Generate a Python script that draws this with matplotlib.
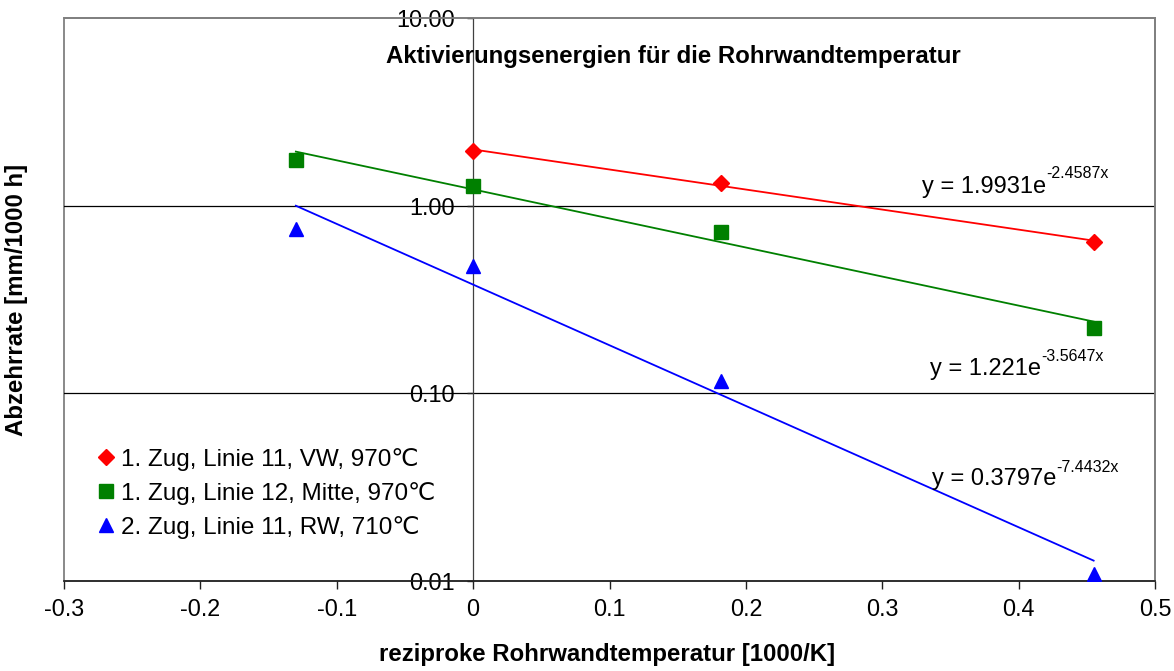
import matplotlib
matplotlib.use('Agg')
import matplotlib.pyplot as plt
import numpy as np
from matplotlib.ticker import FixedLocator, FormatStrFormatter, NullLocator
from matplotlib.patches import Rectangle

plt.rcParams['font.family'] = ['Liberation Sans', 'DejaVu Sans']

# reziproke Rohrwandtemperatur [1000/K] und Abzehrrate [mm/1000 h]
x_vw = [0.0, 0.182, 0.455]
y_vw = [1.95, 1.32, 0.64]
x_mitte = [-0.13, 0.0, 0.182, 0.455]
y_mitte = [1.75, 1.27, 0.72, 0.223]
x_rw = [-0.13, 0.0, 0.182, 0.455]
y_rw = [0.75, 0.476, 0.116, 0.0109]

labels = ['1. Zug, Linie 11, VW, 970\u2103',
          '1. Zug, Linie 12, Mitte, 970\u2103',
          '2. Zug, Linie 11, RW, 710\u2103']
colors = ['#ff0000', '#008000', '#0000ff']
markers = ['D', 's', '^']
msizes = [8, 10, 10]

# exponentielle Trendlinien y = a*exp(b*x)
fit_a = [1.9931, 1.221, 0.3797]
fit_b = [-2.4587, -3.5647, -7.4432]
fit_text = ['1.9931', '1.221', '0.3797']
fit_exp = ['-2.4587', '-3.5647', '-7.4432']
# Lage der Gleichungen in Pixeln: links, Grundlinie, Grundlinie Exponent
eq_pos = [(922, 193, 178), (930, 375, 361), (932, 485, 472)]

W, H = 1174, 671
FS = 16.8

fig = plt.figure(figsize=(W / 100, H / 100), dpi=100)
fig.subplots_adjust(left=64 / W, right=1155 / W, top=1 - 18 / H, bottom=1 - 581 / H)
ax = fig.add_subplot(111)

series = [(x_vw, y_vw), (x_mitte, y_mitte), (x_rw, y_rw)]
for i, (xs, ys) in enumerate(series):
    ax.plot(xs, ys, linestyle='none', marker=markers[i], ms=msizes[i],
            color=colors[i], mec=colors[i], label=labels[i], zorder=4)
    xx = np.linspace(min(xs), max(xs), 50)
    ax.plot(xx, fit_a[i] * np.exp(fit_b[i] * xx), color=colors[i], lw=1.3, zorder=3)
    px, pb, pe = eq_pos[i]
    t = fig.text(px / W, 1 - pb / H, 'y = %se' % fit_text[i],
                 ha='left', va='baseline', fontsize=17)
    ax.annotate(fit_exp[i] + 'x', xy=(1, 1 - pe / H),
                xycoords=(t, 'figure fraction'), ha='left', va='baseline',
                fontsize=11.5, annotation_clip=False)

ax.set_yscale('log')
ax.set_xlim(-0.3, 0.5)
ax.set_ylim(0.01, 10)

ax.yaxis.set_major_locator(FixedLocator([0.01, 0.1, 1, 10]))
ax.yaxis.set_minor_locator(NullLocator())
ax.yaxis.set_major_formatter(FormatStrFormatter('%.2f'))
ax.xaxis.set_major_locator(FixedLocator([-0.3, -0.2, -0.1, 0, 0.1, 0.2, 0.3, 0.4, 0.5]))
ax.xaxis.set_major_formatter(FormatStrFormatter('%g'))

for yv in [0.1, 1]:
    ax.axhline(yv, color='#000000', lw=0.9, zorder=1)

# y-Achse liegt bei x = 0
ax.spines['left'].set_position(('data', 0))
ax.spines['left'].set_color('#404040')
ax.spines['left'].set_linewidth(0.9)
ax.spines['bottom'].set_color('#202020')
ax.spines['bottom'].set_linewidth(1.2)
for s in ['top', 'right']:
    ax.spines[s].set_color('#808080')
    ax.spines[s].set_linewidth(1.3)
ax.add_patch(Rectangle((0, 0), 1, 1, transform=ax.transAxes, fill=False,
                       ec='#808080', lw=1.3, zorder=0, clip_on=False))

ax.tick_params(axis='both', direction='out', labelsize=FS, width=1, colors='#202020')
ax.tick_params(axis='y', length=4.5, pad=8.5, labelcolor='#000000')
ax.tick_params(axis='x', length=5.5, pad=7, labelcolor='#000000')

fig.text(673 / W, 1 - 57 / H, 'Aktivierungsenergien f\u00fcr die Rohrwandtemperatur',
         ha='center', va='center', fontsize=17.3, fontweight='bold')
fig.text(17 / W, 1 - 300 / H, 'Abzehrrate [mm/1000 h]', rotation=90,
         ha='center', va='center', fontsize=17.3, fontweight='bold')
fig.text(607 / W, 1 - 655 / H, 'reziproke Rohrwandtemperatur [1000/K]',
         ha='center', va='center', fontsize=17.3, fontweight='bold')

ax.legend(loc='upper left', bbox_to_anchor=(100 / W, 1 - 448 / H),
          bbox_transform=fig.transFigure, frameon=False, fontsize=17.5,
          numpoints=1, handlelength=0.5, handletextpad=0.35, labelspacing=0.45,
          borderaxespad=0, borderpad=0)

fig.savefig('out.png', dpi=100)
